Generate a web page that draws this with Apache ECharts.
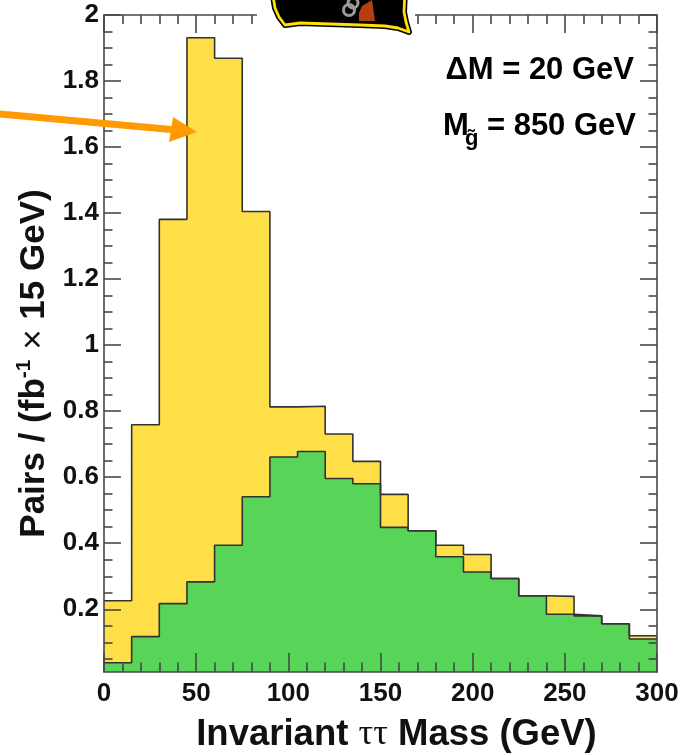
<!DOCTYPE html>
<html>
<head>
<meta charset="utf-8">
<script src="https://cdn.jsdelivr.net/npm/echarts@6/dist/echarts.min.js"></script>
<style>
  html, body { margin: 0; padding: 0; background: #fff; }
  #chart { width: 691px; height: 754px; }
</style>
</head>
<body>
<div id="chart"></div>
<script>
// Histogram bins: 15 GeV wide, low edges from 0 to 285 GeV
const binLow = [0, 15, 30, 45, 60, 75, 90, 105, 120, 135, 150, 165, 180, 195, 210, 225, 240, 255, 270, 285];
const binUpper = 300;

// All tau-tau pairs (yellow) and the green sub-sample, per fb^-1 per 15 GeV
const pairsAll = [0.226, 0.759, 1.381, 1.931, 1.869, 1.405, 0.813, 0.815, 0.731, 0.648,
                  0.548, 0.438, 0.394, 0.366, 0.293, 0.241, 0.239, 0.180, 0.156, 0.120];
const pairsGreen = [0.038, 0.117, 0.217, 0.283, 0.394, 0.541, 0.661, 0.678, 0.596, 0.580,
                    0.448, 0.438, 0.359, 0.313, 0.293, 0.241, 0.185, 0.180, 0.156, 0.110];

// Axis ticks
const yMajorTicks = [0.2, 0.4, 0.6, 0.8, 1, 1.2, 1.4, 1.6, 1.8, 2];
const yMinorTicks = [0.05, 0.1, 0.15, 0.25, 0.3, 0.35, 0.45, 0.5, 0.55, 0.65, 0.7, 0.75,
                     0.85, 0.9, 0.95, 1.05, 1.1, 1.15, 1.25, 1.3, 1.35, 1.45, 1.5, 1.55,
                     1.65, 1.7, 1.75, 1.85, 1.9, 1.95];
const yRange = [0.01, 2];
const xRange = [0, 300];

// Step outline points: each bin's low edge plus the closing upper edge
function stepPoints(values) {
  const pts = binLow.map((x, i) => [x, values[i]]);
  pts.push([binUpper, values[values.length - 1]]);
  return pts;
}

const FONT = 'Liberation Sans';
const AXIS_COLOR = '#474747';

function yAxisDef(position, ticks, len, withLabels) {
  return {
    type: 'value', position: position, min: yRange[0], max: yRange[1], z: 5,
    axisLine: { show: true, lineStyle: { color: AXIS_COLOR, width: 1.6 } },
    axisTick: { show: true, inside: true, length: len, customValues: ticks,
                lineStyle: { color: AXIS_COLOR, width: 1.6 } },
    axisLabel: withLabels
      ? { show: true, customValues: ticks, margin: 5, color: '#111',
          fontFamily: FONT, fontWeight: 'bold', fontSize: 26 }
      : { show: false },
    splitLine: { show: false }
  };
}

const chart = echarts.init(document.getElementById('chart'), null, { renderer: 'canvas' });

const leftMajor = yAxisDef('left', yMajorTicks, 17, true);
leftMajor.name = '{t|Pairs / (fb}{sup|-1}{t| }{x|\u00d7}{t| 15 GeV)}';
leftMajor.nameLocation = 'middle';
leftMajor.nameRotate = 90;
leftMajor.nameGap = 46;
leftMajor.nameTextStyle = {
  padding: [0, 40, 0, 0],
  rich: {
    t: { fontFamily: FONT, fontWeight: 'bold', fontSize: 35, color: '#111' },
    x: { fontFamily: FONT, fontWeight: 'normal', fontSize: 35, color: '#111' },
    sup: { fontFamily: FONT, fontWeight: 'bold', fontSize: 21, color: '#111', padding: [0, 0, 20, 0] }
  }
};

const option = {
  animation: false,
  backgroundColor: '#fff',
  grid: { left: 104, right: 34, top: 15, bottom: 82, containLabel: false, outerBoundsMode: 'none' },
  xAxis: [
    {
      type: 'value', position: 'bottom', min: xRange[0], max: xRange[1], interval: 50, z: 5,
      axisLine: { show: true, lineStyle: { color: AXIS_COLOR, width: 1.6 } },
      axisTick: { show: true, inside: true, length: 19, lineStyle: { color: AXIS_COLOR, width: 1.6 } },
      minorTick: { show: true, splitNumber: 5, length: 9.5, lineStyle: { color: AXIS_COLOR, width: 1.6 } },
      axisLabel: { margin: 9, color: '#111', fontFamily: FONT, fontWeight: 'bold', fontSize: 26 },
      splitLine: { show: false },
      name: 'Invariant {tau|\u03c4\u03c4} Mass (GeV)',
      nameLocation: 'middle',
      nameGap: 44,
      nameTextStyle: {
        fontFamily: FONT, fontWeight: 'bold', fontSize: 36.5, color: '#111',
        padding: [0, 0, 0, 32],
        rich: { tau: { fontFamily: 'Liberation Serif', fontWeight: 'normal', fontSize: 36.5, color: '#111' } }
      }
    },
    {
      type: 'value', position: 'top', min: xRange[0], max: xRange[1], interval: 50, z: 5,
      axisLine: { show: true, lineStyle: { color: AXIS_COLOR, width: 1.6 } },
      axisTick: { show: true, inside: true, length: 18, lineStyle: { color: AXIS_COLOR, width: 1.6 } },
      minorTick: { show: true, splitNumber: 5, length: 9, lineStyle: { color: AXIS_COLOR, width: 1.6 } },
      axisLabel: { show: false },
      splitLine: { show: false }
    }
  ],
  yAxis: [
    leftMajor,
    (function () { const a = yAxisDef('left', yMinorTicks, 8.5, false); a.axisLine.show = false; return a; })(),
    yAxisDef('right', yMajorTicks, 17, false),
    (function () { const a = yAxisDef('right', yMinorTicks, 8.5, false); a.axisLine.show = false; return a; })()
  ],
  series: [
    {
      name: 'all pairs', type: 'line', step: 'end', xAxisIndex: 0, yAxisIndex: 0,
      data: stepPoints(pairsAll), symbol: 'none', z: 1,
      lineStyle: { color: '#333', width: 1.6 },
      areaStyle: { color: '#FEDF48', opacity: 1, origin: 'start' }
    },
    {
      name: 'green pairs', type: 'line', step: 'end', xAxisIndex: 0, yAxisIndex: 0,
      data: stepPoints(pairsGreen), symbol: 'none', z: 1,
      lineStyle: { color: '#333', width: 1.6 },
      areaStyle: { color: '#58D558', opacity: 1, origin: 'start' }
    }
  ],
  graphic: [
    // emblem badge over the top frame
    { type: 'rect', z: 50, shape: { x: 257, y: 0, width: 158, height: 36 }, style: { fill: '#fff' } },
    { type: 'polygon', z: 51,
      shape: { points: [[272, -10], [275, 8], [279, 17], [285, 25], [300, 23], [330, 24], [360, 25], [385, 26], [398, 28], [409, 32], [406, 22], [404, 12], [405, -10]] },
      style: { fill: '#000', stroke: '#000', lineWidth: 6, lineJoin: 'round' } },
    { type: 'polygon', z: 52,
      shape: { points: [[272, -10], [275, 8], [279, 17], [285, 25], [300, 23], [330, 24], [360, 25], [385, 26], [398, 28], [409, 32], [406, 22], [404, 12], [405, -10]] },
      style: { fill: '#000', stroke: '#FFE200', lineWidth: 2.8, lineJoin: 'round' } },
    { type: 'circle', z: 53, shape: { cx: 349, cy: 10, r: 5.5 }, style: { fill: 'none', stroke: '#9A9A9A', lineWidth: 3 } },
    { type: 'circle', z: 53, shape: { cx: 353, cy: 3, r: 5 }, style: { fill: 'none', stroke: '#9A9A9A', lineWidth: 3 } },
    { type: 'polygon', z: 53, shape: { points: [[362, 6], [372, 0], [375, 21], [359, 21], [359, 13]] },
      style: { fill: '#B5400F' } },
    // annotations
    { type: 'text', z: 60, style: { text: '\u0394M = 20 GeV', x: 634, y: 70, align: 'right', verticalAlign: 'middle',
      fontFamily: FONT, fontWeight: 'bold', fontSize: 31, fill: '#000' } },
    { type: 'text', z: 60, style: { text: 'M', x: 443, y: 126, align: 'left', verticalAlign: 'middle',
      fontFamily: FONT, fontWeight: 'bold', fontSize: 31, fill: '#000' } },
    { type: 'text', z: 60, style: { text: 'g\u0303', x: 465, y: 139, align: 'left', verticalAlign: 'middle',
      fontFamily: FONT, fontWeight: 'bold', fontSize: 22, fill: '#000' } },
    { type: 'text', z: 60, style: { text: '= 850 GeV', x: 636, y: 126, align: 'right', verticalAlign: 'middle',
      fontFamily: FONT, fontWeight: 'bold', fontSize: 31, fill: '#000' } },
    // pointer arrow
    { type: 'line', z: 60, shape: { x1: -5, y1: 113.5, x2: 174, y2: 129.8 },
      style: { stroke: '#FF9A00', lineWidth: 7 } },
    { type: 'polygon', z: 60, shape: { points: [[173, 117], [197, 132], [169, 142]] },
      style: { fill: '#FF9A00' } }
  ]
};

chart.setOption(option);
</script>
</body>
</html>
